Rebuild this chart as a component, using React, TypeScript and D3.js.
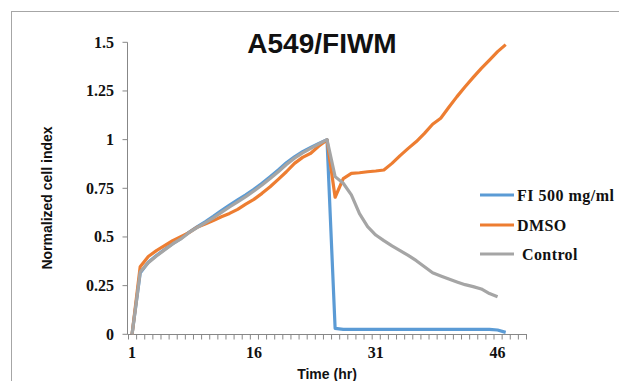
import React from "react";
import * as d3 from "d3";

// hours on the category axis (1..49)
const hours = [
  1, 2, 3, 4, 5, 6, 7, 8, 9, 10, 11, 12, 13, 14, 15, 16, 17, 18, 19, 20, 21, 22, 23, 24, 25,
  26, 27, 28, 29, 30, 31, 32, 33, 34, 35, 36, 37, 38, 39, 40, 41, 42, 43, 44, 45, 46, 47, 48, 49,
];
const xTickLabels = [1, 16, 31, 46];
const yTicks = [0, 0.25, 0.5, 0.75, 1, 1.25, 1.5];

const fiValues = [
  0, 0.315, 0.37, 0.405, 0.436, 0.466, 0.492, 0.524, 0.552, 0.578, 0.606, 0.636, 0.664, 0.69,
  0.716, 0.745, 0.776, 0.81, 0.844, 0.881, 0.912, 0.938, 0.96, 0.981, 1.0,
  0.03, 0.025, 0.025, 0.025, 0.025, 0.025, 0.025, 0.025, 0.025, 0.025, 0.025, 0.025, 0.025,
  0.025, 0.025, 0.025, 0.025, 0.025, 0.025, 0.025, 0.022, 0.01,
];
const dmsoValues = [
  0, 0.347, 0.4, 0.43, 0.455, 0.481, 0.501, 0.522, 0.55, 0.566, 0.584, 0.604, 0.621, 0.642,
  0.669, 0.693, 0.724, 0.758, 0.796, 0.835, 0.878, 0.909, 0.93, 0.967, 0.998,
  0.704, 0.8, 0.827, 0.83, 0.835, 0.839, 0.844, 0.878, 0.918, 0.955, 0.99, 1.032, 1.079, 1.11,
  1.166, 1.221, 1.272, 1.32, 1.366, 1.409, 1.452, 1.488,
];
const controlValues = [
  0, 0.32, 0.368, 0.402, 0.433, 0.464, 0.49, 0.522, 0.548, 0.572, 0.598, 0.626, 0.654, 0.68,
  0.707, 0.736, 0.767, 0.8, 0.835, 0.872, 0.905, 0.932, 0.955, 0.978, 1.0,
  0.81, 0.776, 0.716, 0.62, 0.553, 0.51, 0.481, 0.454, 0.43, 0.405, 0.378, 0.347, 0.316, 0.3,
  0.284, 0.269, 0.255, 0.245, 0.233, 0.209, 0.193,
];

const series = [
  { name: "FI 500 mg/ml", values: fiValues, color: "#5b9bd5" },
  { name: "DMSO", values: dmsoValues, color: "#ed7d31" },
  { name: "Control", values: controlValues, color: "#a5a5a5" },
];

const W = 619;
const H = 381;
const axisColor = "#878787";
const serif = "'Liberation Serif', 'Times New Roman', serif";
const sans = "'Liberation Sans', Arial, sans-serif";

export default function App() {
  const x = d3
    .scaleBand<number>()
    .domain(hours)
    .range([128, 526])
    .padding(0);
  const cx = (h: number) => (x(h) ?? 0) + x.bandwidth() / 2;

  const y = d3.scaleLinear().domain([0, 1.5]).range([334.3, 42.3]);

  const line = d3
    .line<number>()
    .x((_, i) => cx(hours[i]))
    .y((d) => y(d));

  const tickXs = hours.map((h) => x(h) ?? 0).concat([x.range()[1]]);

  return (
    <div style={{ position: "absolute", left: 0, top: 0 }}>
      <svg width={W} height={H} style={{ display: "block", background: "#fff" }}>
        <rect x={11.5} y={11.5} width={700} height={500} fill="#fff" stroke="#a6a6a6" />

        <text
          x={322}
          y={53}
          textAnchor="middle"
          fontFamily={sans}
          fontWeight="bold"
          fontSize={28}
          fill="#111"
        >
          A549/FIWM
        </text>

        {/* y axis */}
        <line x1={127.5} x2={127.5} y1={y(1.5)} y2={y(0)} stroke={axisColor} />
        {yTicks.map((t) => (
          <g key={t}>
            <line x1={122.5} x2={127.5} y1={y(t)} y2={y(t)} stroke={axisColor} />
            <text
              x={114}
              y={y(t) + 5.3}
              textAnchor="end"
              fontFamily={serif}
              fontWeight="bold"
              fontSize={16}
              fill="#111"
            >
              {t}
            </text>
          </g>
        ))}
        <text
          transform="translate(52,198) rotate(-90)"
          textAnchor="middle"
          fontFamily={sans}
          fontWeight="bold"
          fontSize={14}
          fill="#111"
        >
          Normalized cell index
        </text>

        {/* x axis */}
        <line x1={127.5} x2={x.range()[1] + 1} y1={334.5} y2={334.5} stroke={axisColor} />
        {tickXs.map((tx, i) => (
          <line
            key={i}
            x1={tx + 0.5}
            x2={tx + 0.5}
            y1={334.5}
            y2={339.5}
            stroke={axisColor}
          />
        ))}
        {xTickLabels.map((h) => (
          <text
            key={h}
            x={cx(h)}
            y={358}
            textAnchor="middle"
            fontFamily={serif}
            fontWeight="bold"
            fontSize={16}
            fill="#111"
          >
            {h}
          </text>
        ))}
        <text
          x={327}
          y={379}
          textAnchor="middle"
          fontFamily={sans}
          fontWeight="bold"
          fontSize={14}
          fill="#111"
        >
          Time (hr)
        </text>

        {/* series */}
        {series.map((s) => (
          <path
            key={s.name}
            d={line(s.values) ?? ""}
            fill="none"
            stroke={s.color}
            strokeWidth={3.2}
            strokeLinejoin="round"
          />
        ))}

        {/* legend */}
        {series.map((s, i) => {
          const ly = [195, 225, 254][i];
          return (
            <g key={s.name}>
              <line x1={480} x2={514} y1={ly} y2={ly} stroke={s.color} strokeWidth={3.2} />
              <text
                x={s.name === "Control" ? 522 : 517}
                y={ly + 5.5}
                fontFamily={serif}
                fontWeight="bold"
                fontSize={16}
                letterSpacing={i === 0 ? 0.5 : 0.4}
                fill="#111"
              >
                {s.name}
              </text>
            </g>
          );
        })}
      </svg>
    </div>
  );
}
